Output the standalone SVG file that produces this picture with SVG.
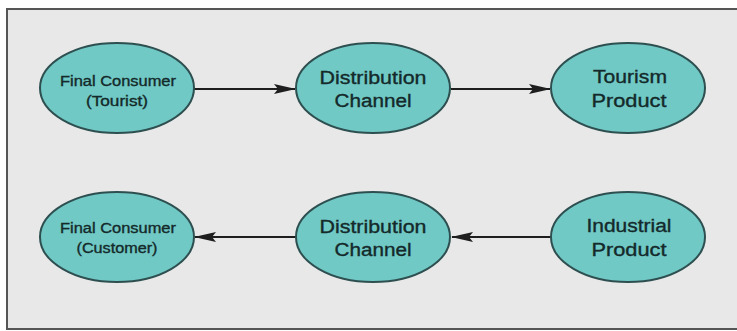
<svg xmlns="http://www.w3.org/2000/svg" width="737" height="331" viewBox="0 0 737 331">
<defs>
<style>
.node ellipse{fill:#70c9c5;stroke:#2e4f50;stroke-width:2}
.node text{font-family:"Liberation Sans",Arial,sans-serif;fill:#14292a;stroke:#14292a;stroke-width:0.35;text-anchor:middle}
.sm{font-size:14px}
.lg{font-size:18px}
.conn line{stroke:#1e1e1e;stroke-width:2}
</style>
<marker id="ah" markerUnits="userSpaceOnUse" markerWidth="22" markerHeight="12" refX="21" refY="6" orient="auto">
<path d="M0,1 L22,6 L0,11 L4,6 Z" fill="#1e1e1e"/>
</marker>
</defs>
<rect x="0" y="0" width="737" height="331" fill="#ffffff"/>
<rect x="7" y="9" width="736" height="320" fill="#e8e8e8" stroke="#555" stroke-width="2"/>
<g id="connectors" class="conn">
<line x1="194" y1="89" x2="295" y2="89" marker-end="url(#ah)"/>
<line x1="451" y1="89" x2="550" y2="89" marker-end="url(#ah)"/>
<line x1="551" y1="237" x2="452" y2="237" marker-end="url(#ah)"/>
<line x1="296" y1="237" x2="195" y2="237" marker-end="url(#ah)"/>
</g>
<g id="n1" class="node">
<ellipse cx="117" cy="88" rx="77" ry="45"/>
<text class="sm" x="118" y="86" textLength="116" lengthAdjust="spacingAndGlyphs">Final Consumer</text>
<text class="sm" x="117" y="106" textLength="62" lengthAdjust="spacingAndGlyphs">(Tourist)</text>
</g>
<g id="n2" class="node">
<ellipse cx="373" cy="88" rx="77" ry="45"/>
<text class="lg" x="373" y="84" textLength="107" lengthAdjust="spacingAndGlyphs">Distribution</text>
<text class="lg" x="373" y="107" textLength="77" lengthAdjust="spacingAndGlyphs">Channel</text>
</g>
<g id="n3" class="node">
<ellipse cx="628" cy="88" rx="77" ry="45"/>
<text class="lg" x="630" y="83" textLength="74" lengthAdjust="spacingAndGlyphs">Tourism</text>
<text class="lg" x="629" y="107" textLength="75" lengthAdjust="spacingAndGlyphs">Product</text>
</g>
<g id="n4" class="node">
<ellipse cx="117" cy="237" rx="77" ry="45"/>
<text class="sm" x="118" y="233" textLength="116" lengthAdjust="spacingAndGlyphs">Final Consumer</text>
<text class="sm" x="117" y="253" textLength="81" lengthAdjust="spacingAndGlyphs">(Customer)</text>
</g>
<g id="n5" class="node">
<ellipse cx="373" cy="237" rx="77" ry="45"/>
<text class="lg" x="373" y="233" textLength="107" lengthAdjust="spacingAndGlyphs">Distribution</text>
<text class="lg" x="373" y="256" textLength="77" lengthAdjust="spacingAndGlyphs">Channel</text>
</g>
<g id="n6" class="node">
<ellipse cx="628" cy="237" rx="77" ry="45"/>
<text class="lg" x="629" y="232" textLength="85" lengthAdjust="spacingAndGlyphs">Industrial</text>
<text class="lg" x="629" y="256" textLength="75" lengthAdjust="spacingAndGlyphs">Product</text>
</g>
</svg>
